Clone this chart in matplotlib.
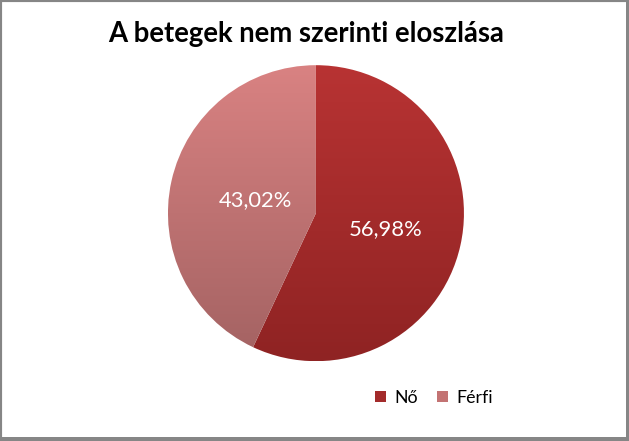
import numpy as np
import matplotlib
matplotlib.use("Agg")
import matplotlib.pyplot as plt
from matplotlib.colors import LinearSegmentedColormap
from matplotlib.patches import Patch, Rectangle

plt.rcParams['font.family'] = ['Lato', 'DejaVu Sans']

# data
labels = ["Nő", "Férfi"]
values = [56.98, 43.02]
label_texts = ["56,98%", "43,02%"]
title = "A betegek nem szerinti eloszlása"

# gradient colours (top, bottom) per slice
top_colors = ["#b83333", "#d98282"]
bottom_colors = ["#8f2323", "#a36262"]
legend_colors = ["#a32b2b", "#c37373"]
label_dist = [0.48, 0.42]

fig = plt.figure(figsize=(6.29, 4.41), dpi=100)
fig.patch.set_facecolor("white")

# frame with a small shadow on right/bottom
fig.patches.append(Rectangle((0, 0), 1, 1, transform=fig.transFigure,
                             fill=False, edgecolor="#868686", linewidth=3.0))
fig.patches.append(Rectangle((0.9955, 0), 0.0045, 1, transform=fig.transFigure,
                             facecolor="#868686", edgecolor="none"))
fig.patches.append(Rectangle((0, 0), 1, 0.008, transform=fig.transFigure,
                             facecolor="#868686", edgecolor="none"))

ax = fig.add_axes([0.267, 0.181, 0.4706, 0.6712])
wedges, _ = ax.pie(values, startangle=90, counterclock=False, radius=1.0,
                   wedgeprops=dict(linewidth=0, alpha=0))
ax.set_xlim(-1, 1)
ax.set_ylim(-1, 1)
ax.set_aspect("equal")
ax.axis("off")

grad = np.linspace(0, 1, 256).reshape(-1, 1)
for w, c_top, c_bot in zip(wedges, top_colors, bottom_colors):
    cmap = LinearSegmentedColormap.from_list("g", [c_top, c_bot])
    im = ax.imshow(grad, cmap=cmap, extent=[-1, 1, -1, 1], origin="upper",
                   aspect="auto", zorder=1)
    im.set_clip_path(w)

# slice labels
for w, txt, d in zip(wedges, label_texts, label_dist):
    ang = np.deg2rad((w.theta1 + w.theta2) / 2)
    ax.text(d * np.cos(ang), d * np.sin(ang), txt, color="white",
            fontsize=15.8, ha="center", va="center", zorder=3)

fig.text(0.487, 0.924, title, fontsize=19.8, fontweight="bold",
         ha="center", va="center", color="black")

handles = [Patch(facecolor=c, edgecolor="none") for c in legend_colors]
fig.legend(handles, labels, loc="center", bbox_to_anchor=(0.69, 0.098),
           ncol=2, frameon=False, fontsize=12.8, handlelength=0.6,
           handleheight=0.6, handletextpad=0.45, columnspacing=1.1)

fig.savefig("out.png", dpi=100)
